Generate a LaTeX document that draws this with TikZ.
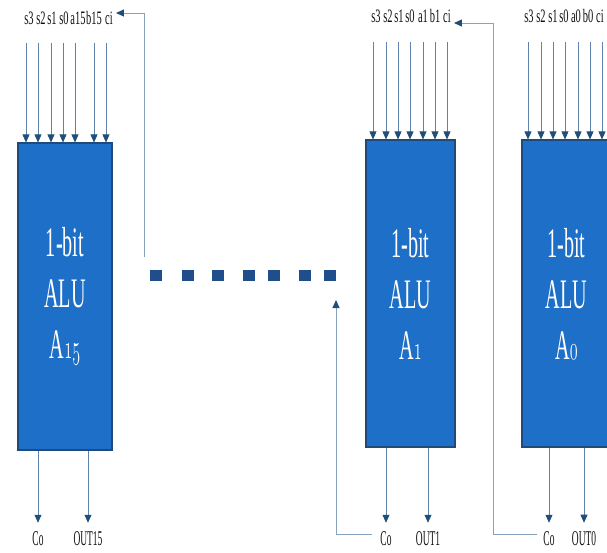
\documentclass[tikz,border=0pt]{standalone}
\usepackage{graphicx}
\usepackage{fontspec}
\setmainfont{Liberation Serif}
\usetikzlibrary{arrows.meta,calc,positioning}
\definecolor{AluBlue}{HTML}{1D6FC7}
\definecolor{AluEdge}{HTML}{1F4A7A}
\definecolor{Wire}{HTML}{5E82AA}
\definecolor{Head}{HTML}{1F4E79}
\definecolor{Loop}{HTML}{86A3BE}
\definecolor{Dot}{HTML}{1F4E8A}
\definecolor{Ink}{HTML}{111111}
\newcommand{\narrow}[2]{\scalebox{#1}[1]{#2}}
\newcommand{\onum}[1]{\scalebox{1.35}{\usefont{OML}{lmm}{m}{it}#1}}
\tikzset{
  alu/.style={draw=AluEdge,line width=1.2pt,fill=AluBlue,text=white,minimum height=307pt,
    inner sep=0pt,align=center,font=\fontsize{42}{51}\selectfont},
  pinlabel/.style={inner sep=0pt,text=Ink,font=\fontsize{19}{19}\selectfont},
  outlabel/.style={inner sep=0pt,text=Ink,font=\fontsize{21}{21}\selectfont},
  inwire/.style={draw=Wire,line width=0.7pt,-{Triangle[length=8pt,width=7pt,color=Head]}},
  loopwire/.style={draw=Loop,line width=1pt,-{Triangle[length=8pt,width=7pt,color=Head]}},
  gap/.style={fill=Dot,minimum width=12pt,minimum height=11pt,inner sep=0pt}
}
\begin{document}
\begin{tikzpicture}[x=1pt,y=-1pt]
  \useasboundingbox (0,0) rectangle (607,552);
  \clip (0,0) rectangle (607,552);
  % the three ALU slices
  \node[alu,minimum width=94pt] (alu15) at (65,296.5)
    {\narrow{0.48}{1-bit}\\\narrow{0.48}{ALU}\\\narrow{0.48}{A\onum{15}}};
  \node[alu,minimum width=89pt] (alu1) at (410.5,293.5)
    {\narrow{0.48}{1-bit}\\\narrow{0.48}{ALU}\\\narrow{0.48}{A\onum{1}}};
  \node[alu,minimum width=89pt] (alu0) at (566.5,293.5)
    {\narrow{0.48}{1-bit}\\\narrow{0.48}{ALU}\\\narrow{0.48}{A\onum{0}}};
  % input pins
  \foreach \x/\t [count=\i] in {29/s3,41/s2,52/s1,64/s0,78/a15,94/b15,109/ci}
    \node[pinlabel] (p15-\i) at (\x,18) {\narrow{0.55}{\t}};
  \foreach \x/\t [count=\i] in {376/s3,388/s2,399/s1,410/s0,423/a1,435/b1,447/ci}
    \node[pinlabel] (p1-\i) at (\x,16) {\narrow{0.55}{\t}};
  \foreach \x/\t [count=\i] in {529/s3,541/s2,553/s1,564/s0,576/a0,588/b0,600/ci}
    \node[pinlabel] (p0-\i) at (\x,16) {\narrow{0.55}{\t}};
  \foreach \x [count=\i] in {26,38,51,63,75,94,106}{
    \coordinate (w15-\i) at (\x,43);
    \draw[inwire] (w15-\i) -- (w15-\i |- alu15.north);
  }
  \foreach \x [count=\i] in {373,386,398,410,423,435,447}{
    \coordinate (w1-\i) at (\x,42);
    \draw[inwire] (w1-\i) -- (w1-\i |- alu1.north);
  }
  \foreach \x [count=\i] in {528,541,553,565,578,590,602}{
    \coordinate (w0-\i) at (\x,42);
    \draw[inwire] (w0-\i) -- (w0-\i |- alu0.north);
  }
  % outputs
  \node[outlabel] (co15) at (38,539) {\narrow{0.45}{Co}};
  \node[outlabel] (out15) at (88,539) {\narrow{0.45}{OUT15}};
  \node[outlabel] (co1) at (386,539) {\narrow{0.45}{Co}};
  \node[outlabel] (out1) at (428,539) {\narrow{0.45}{OUT1}};
  \node[outlabel] (co0) at (549,539) {\narrow{0.45}{Co}};
  \node[outlabel] (out0) at (584,539) {\narrow{0.45}{OUT0}};
  \foreach \o/\b in {co15/alu15,out15/alu15,co1/alu1,out1/alu1,co0/alu0,out0/alu0}
    \draw[inwire] (\o |- \b.south) -- ([yshift=9pt]\o.north);
  % the skipped slices
  \foreach \x [count=\i] in {156,188,218,249,274,305,330}
    \node[gap] (gap\i) at (\x,275) {};
  % carry chain
  \coordinate (fb15) at (144,257);
  \coordinate (top15) at (144,13);
  \draw[loopwire,shorten >=3pt] (fb15) -- (top15) -- (top15 -| p15-7.east);
  \coordinate (up1) at (493,23);
  \draw[loopwire,shorten >=3pt] ([xshift=-6pt,yshift=-3pt]co0.north west) -| (up1) -- (up1 -| p1-7.east);
  \coordinate (carry1) at (336,300);
  \draw[loopwire] ([xshift=-8pt,yshift=-3pt]co1.north west) -| (carry1);
\end{tikzpicture}
\end{document}
